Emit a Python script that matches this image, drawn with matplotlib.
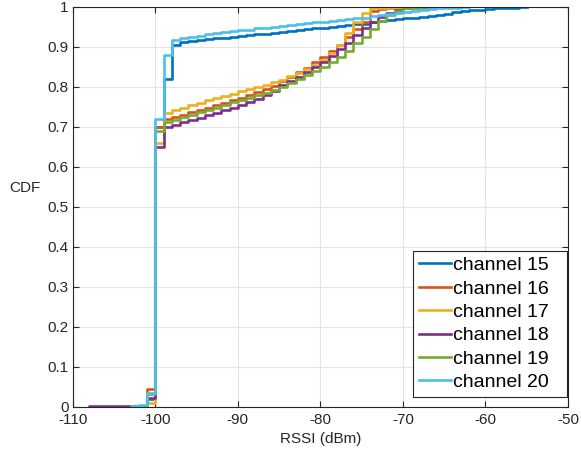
import numpy as np
import matplotlib.pyplot as plt

plt.rcParams['font.family'] = ['Liberation Sans', 'DejaVu Sans']
plt.rcParams['axes.unicode_minus'] = False

# RSSI where each step starts (dBm) and the CDF value after the step
ch15_x = [-102, -101] + list(np.arange(-100, -54))
ch15_y = [0.003, 0.02,
          0.70, 0.82, 0.905, 0.912, 0.915, 0.917, 0.919, 0.921, 0.923, 0.925,
          0.927, 0.929, 0.931, 0.933, 0.935, 0.937, 0.939, 0.941, 0.944, 0.946,
          0.948, 0.950, 0.952, 0.954, 0.956, 0.958, 0.961, 0.964, 0.967, 0.969,
          0.971, 0.973, 0.975, 0.977, 0.979, 0.982, 0.986, 0.989, 0.991, 0.993,
          0.995, 0.996, 0.997, 0.998, 0.999, 1.0]

ch16_x = [-102, -101] + list(np.arange(-100, -70))
ch16_y = [0.002, 0.045,
          0.70, 0.720, 0.725, 0.730, 0.737, 0.743, 0.748, 0.754, 0.760, 0.767,
          0.773, 0.780, 0.787, 0.795, 0.803, 0.815, 0.825, 0.838, 0.848, 0.862,
          0.875, 0.890, 0.905, 0.925, 0.945, 0.962, 0.990, 0.995, 0.997, 1.0]

ch17_x = [-102, -101] + list(np.arange(-100, -73)) + [-66]
ch17_y = [0.002, 0.01,
          0.66, 0.735, 0.742, 0.748, 0.755, 0.760, 0.766, 0.772, 0.778, 0.783,
          0.789, 0.794, 0.800, 0.805, 0.811, 0.818, 0.826, 0.835, 0.845, 0.855,
          0.868, 0.885, 0.905, 0.935, 0.962, 0.985, 0.997, 1.0]

ch18_x = [-108, -101] + list(np.arange(-100, -68))
ch18_y = [0.001, 0.022,
          0.650, 0.700, 0.705, 0.711, 0.717, 0.723, 0.729, 0.735, 0.741, 0.748,
          0.755, 0.762, 0.770, 0.780, 0.790, 0.805, 0.815, 0.825, 0.838, 0.850,
          0.862, 0.878, 0.895, 0.910, 0.930, 0.948, 0.962, 0.975, 0.985, 0.993,
          0.997, 1.0]

ch19_x = [-102, -101] + list(np.arange(-100, -69)) + [-66]
ch19_y = [0.003, 0.033,
          0.690, 0.712, 0.718, 0.724, 0.730, 0.736, 0.742, 0.748, 0.755, 0.761,
          0.767, 0.773, 0.779, 0.785, 0.792, 0.800, 0.810, 0.820, 0.830, 0.840,
          0.850, 0.862, 0.875, 0.890, 0.910, 0.925, 0.945, 0.965, 0.980, 0.990,
          0.998, 1.0]

ch20_x = [-103, -102, -101] + list(np.arange(-100, -61))
ch20_y = [0.002, 0.005, 0.035,
          0.72, 0.88, 0.917, 0.922, 0.925, 0.928, 0.931, 0.934, 0.937, 0.939,
          0.941, 0.943, 0.946, 0.948, 0.950, 0.952, 0.955, 0.957, 0.959, 0.961,
          0.963, 0.965, 0.967, 0.969, 0.971, 0.973, 0.976, 0.979, 0.982, 0.985,
          0.988, 0.990, 0.993, 0.995, 0.996, 0.997, 0.998, 0.999, 1.0]

series = [('channel 15', ch15_x, ch15_y, '#0072BD'),
          ('channel 16', ch16_x, ch16_y, '#D95319'),
          ('channel 17', ch17_x, ch17_y, '#EDB120'),
          ('channel 18', ch18_x, ch18_y, '#7E2F8E'),
          ('channel 19', ch19_x, ch19_y, '#77AC30'),
          ('channel 20', ch20_x, ch20_y, '#4DBEEE')]

fig = plt.figure(figsize=(5.81, 4.55), dpi=100)
ax = fig.add_axes([0.1252, 0.1061, 0.8525, 0.8791])

for name, xs, ys, col in series:
    xs = [xs[0]] + list(xs)
    ys = [0.0] + list(ys)
    ax.step(xs, ys, where='post', color=col, lw=1.9, label=name)

ax.set_xlim(-110, -50)
ax.set_ylim(0, 1)
ax.set_xticks(np.arange(-110, -49, 10))
ax.set_yticks(np.arange(0, 1.01, 0.1))
ax.set_yticklabels(['0', '0.1', '0.2', '0.3', '0.4', '0.5', '0.6', '0.7', '0.8', '0.9', '1'])
ax.grid(True, color='#e3e3e3', lw=0.8)
ax.set_axisbelow(True)
ax.tick_params(direction='in', top=True, right=True, labelsize=11, colors='#262626',
               length=4, width=0.8, pad=3)
ax.tick_params(axis='x', pad=4.5)
for s in ax.spines.values():
    s.set_color('#262626')
    s.set_linewidth(0.8)

ax.set_xlabel('RSSI (dBm)', fontsize=11, color='#262626', labelpad=3.5)
ax.set_ylabel('CDF', fontsize=11, color='#262626', rotation=0, ha='center', va='center')
ax.yaxis.set_label_coords(-0.096, 0.547)

leg = ax.legend(loc='lower left', bbox_to_anchor=(0.687, 0.024, 0.311, 0.36), mode='expand',
                fontsize=14, fancybox=False, framealpha=1, edgecolor='#262626',
                handlelength=1.65, handletextpad=0.1, borderpad=0.3,
                labelspacing=0.3, borderaxespad=0)
leg.get_frame().set_linewidth(0.8)

fig.savefig('out.png', dpi=100)
